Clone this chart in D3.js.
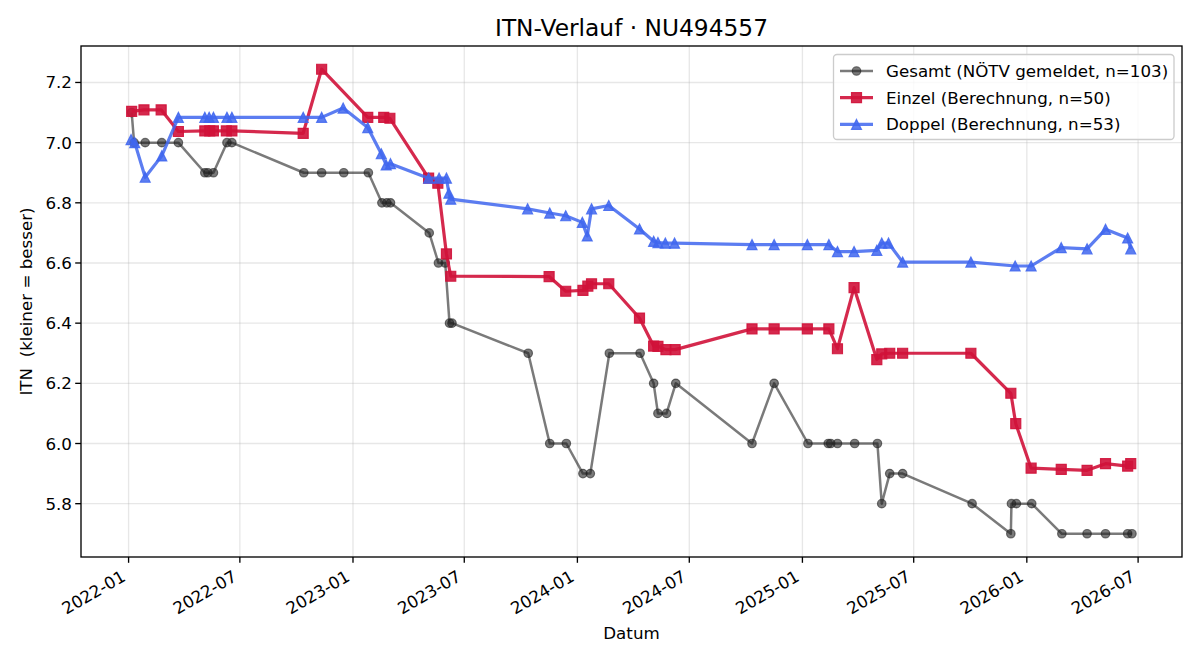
<!DOCTYPE html>
<html><head><meta charset="utf-8">
<script src="https://cdn.jsdelivr.net/npm/d3@7"></script>
<style>body{margin:0;background:#fff;} text{font-family:"DejaVu Sans",sans-serif;}</style>
</head><body><svg id="chart" width="1200" height="660"></svg>
<script>
const titleText = "ITN-Verlauf · NU494557";
const xLabel = "Datum";
const yLabel = "ITN  (kleiner = besser)";
const seriesNames = ["Gesamt (NÖTV gemeldet, n=103)", "Einzel (Berechnung, n=50)", "Doppel (Berechnung, n=53)"];
const yTicks = [5.8, 6.0, 6.2, 6.4, 6.6, 6.8, 7.0, 7.2];

const gesamtDates = ["2022-01-06","2022-01-10","2022-01-28","2022-02-24","2022-03-23","2022-05-05","2022-05-10","2022-05-19","2022-06-10","2022-06-18","2022-10-13","2022-11-11","2022-12-17","2023-01-26","2023-02-17","2023-02-25","2023-03-03","2023-05-05","2023-05-20","2023-05-31","2023-06-07","2023-06-11","2023-10-13","2023-11-17","2023-12-14","2024-01-10","2024-01-22","2024-02-22","2024-04-12","2024-05-04","2024-05-11","2024-05-25","2024-06-09","2024-10-11","2024-11-16","2025-01-10","2025-02-12","2025-02-16","2025-02-27","2025-03-27","2025-05-03","2025-05-10","2025-05-23","2025-06-13","2025-10-04","2025-12-06","2025-12-07","2025-12-15","2026-01-09","2026-02-27","2026-04-09","2026-05-09","2026-06-14","2026-06-21"];
const gesamtValues = [7.1,7.0,7.0,7.0,7.0,6.9,6.9,6.9,7.0,7.0,6.9,6.9,6.9,6.9,6.8,6.8,6.8,6.7,6.6,6.6,6.4,6.4,6.3,6.0,6.0,5.9,5.9,6.3,6.3,6.2,6.1,6.1,6.2,6.0,6.2,6.0,6.0,6.0,6.0,6.0,6.0,5.8,5.9,5.9,5.8,5.7,5.8,5.8,5.8,5.7,5.7,5.7,5.7,5.7];

const einzelDates = ["2022-01-06","2022-01-26","2022-02-23","2022-03-23","2022-05-05","2022-05-13","2022-05-19","2022-06-09","2022-06-18","2022-10-12","2022-11-11","2023-01-25","2023-02-20","2023-03-02","2023-05-04","2023-05-19","2023-06-02","2023-06-09","2023-11-16","2023-12-13","2024-01-10","2024-01-18","2024-01-24","2024-02-21","2024-04-11","2024-05-04","2024-05-11","2024-05-24","2024-06-08","2024-10-11","2024-11-16","2025-01-09","2025-02-13","2025-02-27","2025-03-26","2025-05-02","2025-05-10","2025-05-23","2025-06-13","2025-10-02","2025-12-06","2025-12-14","2026-01-08","2026-02-26","2026-04-09","2026-05-09","2026-06-14","2026-06-19"];
const einzelValues = [7.104,7.109,7.109,7.037,7.039,7.039,7.039,7.039,7.039,7.031,7.244,7.084,7.084,7.081,6.882,6.865,6.630,6.556,6.555,6.506,6.509,6.523,6.531,6.531,6.417,6.324,6.323,6.312,6.312,6.381,6.381,6.381,6.381,6.315,6.518,6.279,6.298,6.300,6.300,6.300,6.167,6.066,5.918,5.914,5.911,5.933,5.925,5.933];

const doppelDates = ["2022-01-05","2022-01-11","2022-01-28","2022-02-24","2022-03-23","2022-05-05","2022-05-12","2022-05-19","2022-06-10","2022-06-18","2022-10-12","2022-11-11","2022-12-16","2023-01-25","2023-02-16","2023-02-24","2023-03-03","2023-05-04","2023-05-21","2023-06-02","2023-06-06","2023-06-09","2023-10-12","2023-11-17","2023-12-13","2024-01-09","2024-01-17","2024-01-24","2024-02-21","2024-04-11","2024-05-04","2024-05-11","2024-05-23","2024-06-07","2024-10-11","2024-11-16","2025-01-09","2025-02-13","2025-02-27","2025-03-26","2025-05-02","2025-05-10","2025-05-21","2025-06-13","2025-10-02","2025-12-13","2026-01-08","2026-02-26","2026-04-09","2026-05-09","2026-06-14","2026-06-19"];
const doppelValues = [7.01,7.0,6.885,6.956,7.084,7.084,7.084,7.084,7.084,7.084,7.084,7.084,7.115,7.05,6.963,6.926,6.93,6.882,6.882,6.882,6.832,6.812,6.780,6.766,6.757,6.735,6.69,6.78,6.791,6.713,6.672,6.668,6.666,6.666,6.661,6.661,6.661,6.661,6.638,6.638,6.642,6.666,6.666,6.603,6.603,6.59,6.59,6.651,6.647,6.712,6.683,6.647];

const parse = d3.timeParse("%Y-%m-%d");
const mk = (ds, vs) => ds.map((d, i) => ({date: parse(d), value: vs[i]}));
const series = [
  {name: seriesNames[0], data: mk(gesamtDates, gesamtValues), color: "#222222", alpha: 0.6, lw: 2.5, marker: "circle", ms: 8.5},
  {name: seriesNames[1], data: mk(einzelDates, einzelValues), color: "#d0123a", alpha: 0.9, lw: 3.2, marker: "square", ms: 10},
  {name: seriesNames[2], data: mk(doppelDates, doppelValues), color: "#3f66ef", alpha: 0.85, lw: 3.2, marker: "triangle", ms: 10}
];

const svg = d3.select("#chart");
const m = {left: 81, right: 1182, top: 46, bottom: 557};

const all = series.flatMap(s => s.data);
const [tmin, tmax] = d3.extent(all, d => +d.date);
const tp = (tmax - tmin) * 0.05;
const [vmin, vmax] = d3.extent(all, d => d.value);
const vp = (vmax - vmin) * 0.05;
const x = d3.scaleTime().domain([new Date(tmin - tp), new Date(tmax + tp)]).range([m.left, m.right]);
const y = d3.scaleLinear().domain([vmin - vp, vmax + vp]).range([m.bottom, m.top]);

const xTicks = x.ticks(d3.timeMonth.every(6));

// grid
const grid = svg.append("g");
grid.selectAll(".gx").data(xTicks).join("line")
  .attr("x1", d => x(d)).attr("x2", d => x(d)).attr("y1", m.top).attr("y2", m.bottom)
  .attr("stroke", "#b0b0b0").attr("stroke-opacity", 0.3).attr("stroke-width", 1.33);
grid.selectAll(".gy").data(yTicks).join("line")
  .attr("x1", m.left).attr("x2", m.right).attr("y1", d => y(d)).attr("y2", d => y(d))
  .attr("stroke", "#b0b0b0").attr("stroke-opacity", 0.3).attr("stroke-width", 1.33);

// series
const line = d3.line().x(d => x(d.date)).y(d => y(d.value));
const sym = {circle: d3.symbolCircle, square: d3.symbolSquare};
function drawMarker(g, s, cx, cy) {
  let path;
  if (s.marker === "circle") path = d3.symbol(sym.circle, Math.PI * (s.ms / 2) ** 2)();
  else if (s.marker === "square") path = d3.symbol(sym.square, s.ms * s.ms)();
  else {
    const r = s.ms / 2;
    path = `M0,${-r}L${r},${r}L${-r},${r}Z`;
  }
  g.append("path").attr("d", path).attr("transform", `translate(${cx},${cy})`)
    .attr("fill", s.color).attr("fill-opacity", s.alpha)
    .attr("stroke", s.color).attr("stroke-opacity", s.alpha).attr("stroke-width", 1.2)
    .attr("stroke-linejoin", "miter");
}
const plot = svg.append("g");
series.forEach(s => {
  plot.append("path").datum(s.data).attr("d", line)
    .attr("fill", "none").attr("stroke", s.color).attr("stroke-opacity", s.alpha)
    .attr("stroke-width", s.lw).attr("stroke-linejoin", "round").attr("stroke-linecap", "butt");
  const mg = plot.append("g");
  s.data.forEach(d => drawMarker(mg, s, x(d.date), y(d.value)));
});

// frame
svg.append("rect").attr("x", m.left).attr("y", m.top).attr("width", m.right - m.left).attr("height", m.bottom - m.top)
  .attr("fill", "none").attr("stroke", "#000").attr("stroke-width", 1.33);

// axes
const fmt = d3.timeFormat("%Y-%m");
const xa = svg.append("g");
xTicks.forEach(t => {
  const tx = x(t);
  xa.append("line").attr("x1", tx).attr("x2", tx).attr("y1", m.bottom).attr("y2", m.bottom + 5.8).attr("stroke", "#000").attr("stroke-width", 1.33);
  xa.append("text").attr("transform", `translate(${tx - 2},${m.bottom + 23}) rotate(-30)`)
    .attr("text-anchor", "end").attr("font-size", 16.7).attr("fill", "#000").text(fmt(t));
});
const ya = svg.append("g");
yTicks.forEach(v => {
  const ty = y(v);
  ya.append("line").attr("x1", m.left - 5.8).attr("x2", m.left).attr("y1", ty).attr("y2", ty).attr("stroke", "#000").attr("stroke-width", 1.33);
  ya.append("text").attr("x", m.left - 9).attr("y", ty).attr("dy", "0.36em")
    .attr("text-anchor", "end").attr("font-size", 16.7).attr("fill", "#000").text(d3.format(".1f")(v));
});

svg.append("text").attr("x", (m.left + m.right) / 2).attr("y", 36).attr("text-anchor", "middle")
  .attr("font-size", 23.3).attr("fill", "#000").text(titleText);
svg.append("text").attr("x", (m.left + m.right) / 2).attr("y", 639).attr("text-anchor", "middle")
  .attr("font-size", 16.7).attr("fill", "#000").text(xLabel);
svg.append("text").attr("transform", `translate(32,${(m.top + m.bottom) / 2}) rotate(-90)`).attr("text-anchor", "middle")
  .attr("font-size", 16.7).attr("fill", "#000").style("white-space", "pre").attr("xml:space", "preserve").text(yLabel);

// legend
const lg = svg.append("g");
lg.append("rect").attr("x", 833.5).attr("y", 54.5).attr("width", 340.5).attr("height", 85).attr("rx", 3.5)
  .attr("fill", "#fff").attr("fill-opacity", 0.8).attr("stroke", "#cccccc").attr("stroke-width", 1.33);
series.forEach((s, i) => {
  const cy = 71 + i * 26.7;
  lg.append("line").attr("x1", 840).attr("x2", 873).attr("y1", cy).attr("y2", cy)
    .attr("stroke", s.color).attr("stroke-opacity", s.alpha).attr("stroke-width", s.lw);
  drawMarker(lg, s, 856.5, cy);
  lg.append("text").attr("x", 886).attr("y", cy).attr("dy", "0.36em").attr("font-size", 16.7).attr("fill", "#000").text(s.name);
});
</script></body></html>
